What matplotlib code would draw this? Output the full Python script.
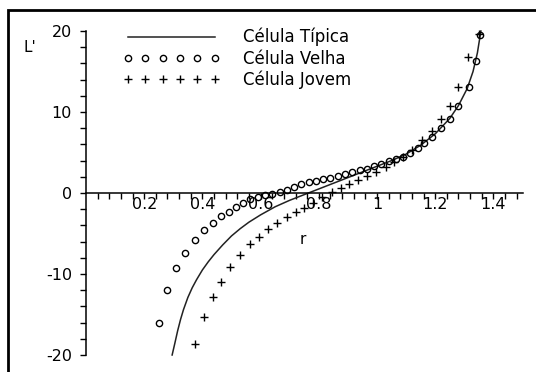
import numpy as np
import matplotlib.pyplot as plt
from matplotlib.patches import Rectangle
from matplotlib.ticker import FixedLocator

# Célula Típica (solid line)
tipica_r = [0.296, 0.305, 0.315, 0.325, 0.335, 0.35, 0.365, 0.38, 0.40, 0.42, 0.44, 0.47,
            0.50, 0.53, 0.56, 0.60, 0.65, 0.70, 0.75, 0.80, 0.85, 0.90, 0.95, 1.00,
            1.05, 1.10, 1.15, 1.20, 1.25, 1.28, 1.31, 1.33, 1.345, 1.357]
tipica_L = [-20.0, -18.6, -17.0, -15.6, -14.4, -12.9, -11.7, -10.7, -9.5, -8.5, -7.6, -6.4,
            -5.3, -4.4, -3.6, -2.7, -1.7, -0.9, -0.2, 0.5, 1.2, 1.9, 2.6, 3.3,
            4.0, 4.8, 5.9, 7.3, 9.2, 10.8, 12.9, 15.0, 17.3, 20.0]

# Célula Velha (circles)
velha_r = [0.25, 0.28, 0.31, 0.34, 0.375, 0.405, 0.435, 0.465, 0.49, 0.515, 0.54, 0.565,
           0.59, 0.615, 0.64, 0.665, 0.69, 0.715, 0.74, 0.765, 0.79, 0.815, 0.84, 0.865,
           0.89, 0.915, 0.94, 0.965, 0.99, 1.015, 1.04, 1.065, 1.09, 1.115, 1.14, 1.16,
           1.19, 1.22, 1.25, 1.28, 1.315, 1.34, 1.355]
velha_L = [-16.0, -12.0, -9.3, -7.4, -5.8, -4.6, -3.7, -2.9, -2.3, -1.7, -1.2, -0.8,
           -0.5, -0.3, -0.1, 0.1, 0.4, 0.7, 1.1, 1.3, 1.5, 1.7, 1.9, 2.1,
           2.4, 2.6, 2.8, 3.0, 3.3, 3.6, 3.9, 4.2, 4.5, 5.0, 5.6, 6.2,
           6.9, 8.0, 9.1, 10.7, 13.1, 16.3, 19.5]

# Célula Jovem (plus signs)
jovem_r = [0.375, 0.405, 0.436, 0.464, 0.495, 0.53, 0.565, 0.595, 0.625, 0.655, 0.69, 0.72,
           0.75, 0.78, 0.81, 0.845, 0.875, 0.905, 0.935, 0.965, 0.995, 1.03, 1.06, 1.09,
           1.12, 1.155, 1.19, 1.22, 1.25, 1.28, 1.313, 1.35]
jovem_L = [-18.6, -15.3, -12.8, -11.0, -9.1, -7.7, -6.3, -5.4, -4.5, -3.7, -3.0, -2.4,
           -1.8, -1.2, -0.5, 0.1, 0.6, 1.1, 1.6, 2.1, 2.6, 3.2, 3.8, 4.4,
           5.3, 6.5, 7.7, 9.1, 10.7, 13.1, 16.8, 19.6]

x_ticks = [0.2, 0.4, 0.6, 0.8, 1.0, 1.2, 1.4]
x_labels = ['0.2', '0.4', '0.6', '0.8', '1', '1.2', '1.4']
y_ticks = [-20, -10, 0, 10, 20]
y_labels = ['-20', '-10', '0', '10', '20']

W, H = 536, 372
fig = plt.figure(figsize=(W / 100, H / 100), dpi=100)
ax = fig.add_axes([86 / W, 17 / H, 436.5 / W, 324 / H])

ax.plot(tipica_r, tipica_L, '-', color='#222222', lw=1.1, label='Célula Típica', clip_on=False)
ax.plot(velha_r, velha_L, 'o', ms=4.5, mfc='none', mec='black', mew=1.0,
        label='Célula Velha', clip_on=False)
ax.plot(jovem_r, jovem_L, '+', ms=5.5, color='black', mew=1.0,
        label='Célula Jovem', clip_on=False)

ax.set_xlim(0, 1.5)
ax.set_ylim(-20, 20)
ax.spines['top'].set_visible(False)
ax.spines['right'].set_visible(False)
ax.spines['bottom'].set_position(('data', 0))
ax.spines['bottom'].set_linewidth(1.1)
ax.spines['left'].set_linewidth(1.1)

ax.xaxis.set_major_locator(FixedLocator(x_ticks))
ax.set_xticklabels(x_labels)
ax.xaxis.set_minor_locator(FixedLocator(np.arange(0.04, 1.5, 0.04)))
ax.yaxis.set_major_locator(FixedLocator(y_ticks))
ax.set_yticklabels(y_labels)
ax.yaxis.set_minor_locator(FixedLocator(np.arange(-20, 21, 2)))
ax.tick_params(which='both', direction='out', length=4, width=1, labelsize=11.5)
ax.tick_params(axis='x', pad=-1)
ax.tick_params(axis='y', pad=6)

fig.text(30 / W, 1 - 47 / H, "L'", fontsize=11, ha='center', va='center')
fig.text(303 / W, 1 - 240 / H, "r", fontsize=11, ha='center', va='center')

fig.legend(loc='upper left', bbox_to_anchor=(123 / W, 1 - 28 / H), frameon=False,
           fontsize=12, numpoints=6, handlelength=5.8, handletextpad=1.4,
           labelspacing=0.19, borderpad=0, borderaxespad=0)

fig.add_artist(Rectangle((8 / W, -0.1), 1.2, 1.1 - 10 / H, transform=fig.transFigure,
                         fill=False, ec='black', lw=2))

fig.savefig('out.png', dpi=100)
